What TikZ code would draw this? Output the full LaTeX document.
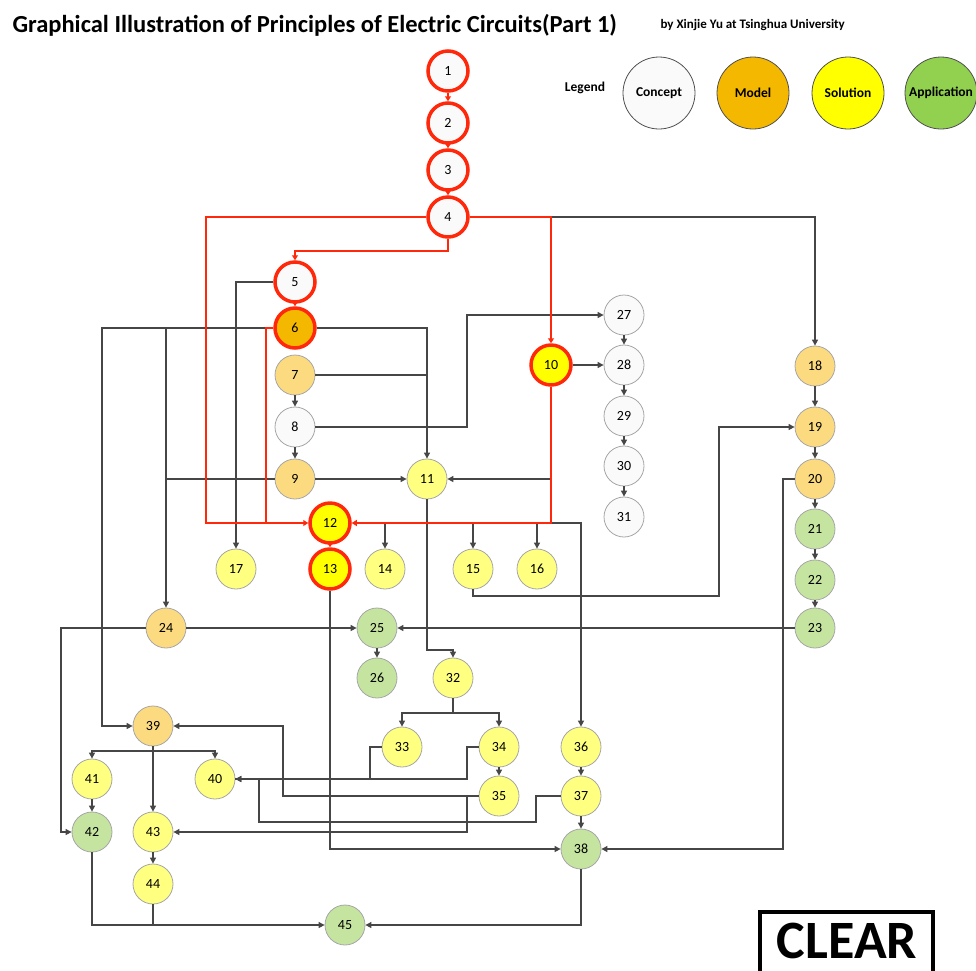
\documentclass[tikz,border=0pt]{standalone}
\usepackage{fontspec}
\setmainfont{Carlito}
\usetikzlibrary{arrows.meta}
\definecolor{hotred}{RGB}{255,40,10}
\definecolor{wiregray}{RGB}{70,70,70}
\definecolor{ballgray}{RGB}{166,166,166}
\definecolor{legendgray}{RGB}{80,80,80}
\definecolor{conceptfill}{RGB}{250,250,250}
\definecolor{modellight}{RGB}{252,219,128}
\definecolor{modelfull}{RGB}{245,184,0}
\definecolor{solutionlight}{RGB}{255,255,128}
\definecolor{solutionfull}{RGB}{255,255,0}
\definecolor{applight}{RGB}{197,228,160}
\definecolor{appfull}{RGB}{146,208,80}
\begin{document}
\begin{tikzpicture}[x=1pt,y=-1pt,>={Triangle[length=6pt,width=6pt]},
    every node/.style={font=\fontsize{14}{16}\selectfont},
    ball/.style={circle,minimum size=40pt,inner sep=0pt,draw=ballgray,line width=.8pt},
    concept/.style={ball,fill=conceptfill},
    model/.style={ball,fill=modellight},
    solution/.style={ball,fill=solutionlight},
    application/.style={ball,fill=applight},
    hot/.style={draw=hotred,line width=3.5pt},
    wire/.style={draw=wiregray,line width=1.1pt},
    redwire/.style={draw=hotred,line width=2.8pt,>={Triangle[length=5pt,width=6pt]}}]
    \useasboundingbox (0,0) rectangle (976,970);
    % tieu de
    \node[anchor=base west,font=\fontsize{24.5}{28}\selectfont\bfseries] (title) at (9,32) {Graphical Illustration of Principles of Electric Circuits(Part 1)};
    \node[anchor=base west,font=\fontsize{13}{15}\selectfont\bfseries] (author) at (657,28) {by Xinjie Yu at Tsinghua University};
    % chu giai
    \node[font=\fontsize{13.5}{15}\selectfont\bfseries] (legend) at (585,88) {Legend};
    \foreach \t/\c/\x in {Concept/conceptfill/659,Model/modelfull/753,Solution/solutionfull/848,Application/appfull/941}
        \node[circle,minimum size=72pt,inner sep=0pt,draw=legendgray,line width=.8pt,fill=\c,font=\fontsize{13.5}{15}\selectfont\bfseries] (\t) at (\x,93) {\t};
    % cac nut
    \foreach \n/\x/\y in {1/448/71,2/448/123,3/448/170,4/448/217,5/295/282}
        \node[concept,hot] (n\n) at (\x,\y) {\n};
    \node[model,hot,fill=modelfull] (n6) at (295,328) {6};
    \foreach \n/\x/\y in {10/551/365,12/330/523,13/330/569}
        \node[solution,hot,fill=solutionfull] (n\n) at (\x,\y) {\n};
    \foreach \n/\x/\y in {8/295/427,27/624/315,28/624/365,29/624/416,30/624/466,31/624/517}
        \node[concept] (n\n) at (\x,\y) {\n};
    \foreach \n/\x/\y in {7/295/375,9/295/479,18/815/366,19/815/427,20/815/479,24/166/628,39/153/726}
        \node[model] (n\n) at (\x,\y) {\n};
    \foreach \n/\x/\y in {11/427/479,14/385/569,15/473/569,16/537/569,17/236/569,32/453/678,33/402/747,34/499/747,35/499/796,36/581/747,37/581/796,40/215/779,41/92/779,43/153/832,44/153/884}
        \node[solution] (n\n) at (\x,\y) {\n};
    \foreach \n/\x/\y in {21/815/529,22/815/580,23/815/628,25/377/628,26/377/678,38/581/849,42/92/832,45/345/925}
        \node[application] (n\n) at (\x,\y) {\n};
    % duong den
    \draw[wire,->] (n4.east) -| (n18.north);
    \draw[wire,->] (n5.west) -| (n17.north);
    \draw[wire,->] (n6.east) -| (n11.north);
    \draw[wire] (n7.east) -- (n7 -| n11);
    \draw[wire,->] (n6.west) -- (102,328) |- (n39.west);
    \draw[wire,->] (n24 |- n6) -- (n24.north);
    \draw[wire] (n9.west) -- (n9 -| n24);
    \draw[wire,->] (n8.east) -- (467,427) |- (n27.west);
    \draw[wire,->] (n9) -- (n11);
    \draw[wire,->] (n10) -- (n28);
    \draw[wire,->] (n10 |- n11) -- (n11.east);
    \foreach \n in {14,15,16}{\draw[wire,->] (n\n |- n12) -- (n\n.north);
    }
    \draw[wire,->] (n10 |- n12) -| (n36.north);
    \draw[wire,->] (n11.south) -- (427,650) -| (n32.north);
    \draw[wire,->] (n13.south) |- (n38.west);
    \draw[wire,->] (n15.south) -- (473,596) -| (719,427) -- (n19.west);
    \draw[wire,->] (n20.west) -- (783,479) |- (n38.east);
    \draw[wire,->] (n23) -- (n25);
    \draw[wire,->] (n24) -- (n25);
    \draw[wire,->] (n24.west) -- (61,628) |- (n42.west);
    \foreach \n in {33,34}{\draw[wire,->] (n32.south) -- (453,713) -| (n\n.north);
    }
    \draw[wire,->] (n33.west) -- (370,747) |- (n40.east);
    \draw[wire] (n34.west) -- (467,747) |- (n40.east);
    \draw[wire,->] (n35.west) -- (283,796) |- (n39.east);
    \draw[wire,->] (n35.west) -- (467,796) |- (n43.east);
    \draw[wire,->] (n37.west) -- (536,796) |- (259,822) |- (n40.east);
    \draw[wire,->] (n38.south) |- (n45.east);
    \draw[wire,->] (n39) -- (n43);
    \foreach \n in {41,40}{\draw[wire,->] (n39.south) -- (153,751) -| (n\n.north);
    }
    \draw[wire,->] (n42.south) |- (n45.west);
    \draw[wire] (n44.south) -- (n44 |- n45);
    \foreach \a/\b in {7/8,8/9,18/19,19/20,20/21,21/22,22/23,25/26,27/28,28/29,29/30,30/31,34/35,36/37,37/38,41/42,43/44}
        \draw[wire,->] (n\a) -- (n\b);
    % duong do
    \foreach \a/\b in {1/2,2/3,3/4,5/6,12/13}
        \draw[redwire,->] (n\a) -- (n\b);
    \draw[redwire,->] (n4.south) -- (448,251) -| (n5.north);
    \draw[redwire,->] (n4.west) -| (206,523) -- (n12.west);
    \draw[redwire] (n6.west) -| (266,523);
    \draw[redwire,->] (n4.east) -| (n10.north);
    \draw[redwire,->] (n10.south) |- (n12.east);
    % nut xoa
    \draw[line width=4.5pt] (760,912) rectangle (933,990);
    \node[anchor=base,inner sep=0pt,font=\fontsize{54}{56}\selectfont\bfseries] (clear) at (847,958) {CLEAR};
\end{tikzpicture}
\end{document}
